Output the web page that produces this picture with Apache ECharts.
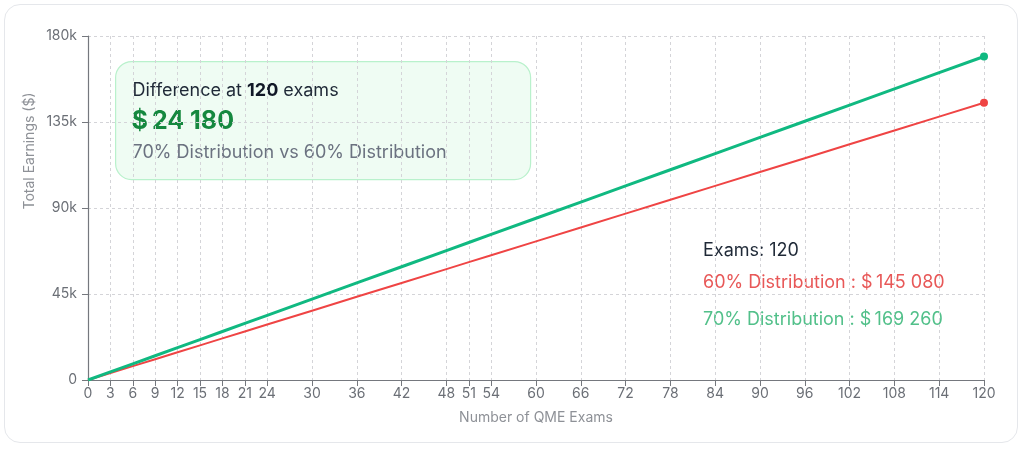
<!DOCTYPE html>
<html>
<head>
<meta charset="utf-8">
<script src="https://cdn.jsdelivr.net/npm/echarts@6/dist/echarts.min.js"></script>
<style>
  html, body { margin: 0; padding: 0; background: #ffffff; }
  #card { position: absolute; left: 4px; top: 4px; width: 1014px; height: 439px; border: 1px solid #e5e7eb; border-radius: 16px; background: #fff; box-sizing: border-box; }
  #chart { position: absolute; left: 0; top: 0; width: 1024px; height: 450px; }
</style>
</head>
<body>
<div id="card"></div>
<div id="chart"></div>
<script>
// ---- data ----
const examTicks = [0, 3, 6, 9, 12, 15, 18, 21, 24, 30, 36, 42, 48, 51, 54, 60, 66, 72, 78, 84, 90, 96, 102, 108, 114, 120];
const exams = [0, 3, 6, 9, 12, 15, 18, 21, 24, 30, 36, 42, 48, 51, 54, 60, 66, 72, 78, 84, 90, 96, 102, 108, 114, 120];
const earnings60 = [0, 3627, 7254, 10881, 14508, 18135, 21762, 25389, 29016, 36270, 43524, 50778, 58032, 61659, 65286, 72540, 79794, 87048, 94302, 101556, 108810, 116064, 123318, 130572, 137826, 145080];
const earnings70 = [0, 4231.5, 8463, 12694.5, 16926, 21157.5, 25389, 29620.5, 33852, 42315, 50778, 59241, 67704, 71935.5, 76167, 84630, 93093, 101556, 110019, 118482, 126945, 135408, 143871, 152334, 160797, 169260];
const yTicks = [0, 45000, 90000, 135000, 180000];
const seriesNames = ['60% Distribution', '70% Distribution'];
const xAxisName = 'Number of QME Exams';
const yAxisName = 'Total Earnings ($)';

const fmtMoney = v => '$' + '\u2009' + Math.round(v).toString().replace(/\B(?=(\d{3})+(?!\d))/g, ' ');
const last = exams.length - 1;
const diff = earnings70[last] - earnings60[last];

const chart = echarts.init(document.getElementById('chart'), null, { renderer: 'canvas' });
const FONT = 'Inter, "Noto Sans", sans-serif';

const option = {
  backgroundColor: 'transparent',
  animation: false,
  textStyle: { fontFamily: FONT },
  grid: { left: 88, right: 40, top: 36, bottom: 70 },
  xAxis: {
    type: 'value',
    min: 0, max: 120,
    name: xAxisName,
    nameLocation: 'middle',
    nameGap: 31,
    nameTextStyle: { color: '#8e9197', fontSize: 14, fontFamily: FONT },
    axisLine: { show: true, lineStyle: { color: '#75787e', width: 1.2 } },
    axisTick: { show: true, length: 6, customValues: examTicks, lineStyle: { color: '#75787e' } },
    axisLabel: { customValues: examTicks, color: '#6b6f76', fontSize: 14, margin: 7, fontFamily: FONT },
    splitLine: { show: true, lineStyle: { color: '#d4d4d8', type: [3, 3] } }
  },
  yAxis: {
    type: 'value',
    min: 0, max: 180000, interval: 45000,
    axisLine: { show: true, lineStyle: { color: '#75787e', width: 1.2 } },
    axisTick: { show: true, length: 6, lineStyle: { color: '#75787e' } },
    axisLabel: {
      color: '#6b6f76', fontSize: 14, margin: 11, fontFamily: FONT,
      customValues: yTicks,
      formatter: v => v === 0 ? '0' : (v / 1000) + 'k'
    },
    splitLine: { show: true, lineStyle: { color: '#d4d4d8', type: [3, 3] } }
  },
  series: [
    {
      name: seriesNames[0],
      type: 'line',
      data: exams.map((x, i) => [x, earnings60[i]]),
      showSymbol: true,
      symbol: 'circle',
      symbolSize: (v, p) => p.dataIndex === last ? 8 : 0,
      itemStyle: { color: '#ef4444' },
      lineStyle: { color: '#ef4444', width: 2 },
      z: 3
    },
    {
      name: seriesNames[1],
      type: 'line',
      data: exams.map((x, i) => [x, earnings70[i]]),
      showSymbol: true,
      symbol: 'circle',
      symbolSize: (v, p) => p.dataIndex === last ? 8 : 0,
      itemStyle: { color: '#10b981' },
      lineStyle: { color: '#10b981', width: 3 },
      z: 4
    }
  ],
  graphic: [
    {
      type: 'text', x: 30, y: 151, rotation: Math.PI / 2, z: 50,
      style: { text: yAxisName, fontSize: 14, fill: '#8e9197', fontFamily: FONT, align: 'center', verticalAlign: 'middle' }
    },
    {
      type: 'group', left: 115, top: 61, z: 100,
      children: [
        { type: 'rect', shape: { x: 0, y: 0, width: 415, height: 118, r: 16 },
          style: { fill: '#effcf3', stroke: '#b9f1cc', lineWidth: 1.2 } },
        { type: 'text', x: 17, y: 29,
          style: {
            text: '{n|Difference at }{b|' + exams[last] + '}{n| exams}',
            verticalAlign: 'middle',
            rich: {
              n: { fontSize: 18, fill: '#1f2937', fontFamily: FONT },
              b: { fontSize: 18, fill: '#111827', fontWeight: 'bold', fontFamily: FONT }
            }
          } },
        { type: 'text', x: 16, y: 60,
          style: { text: fmtMoney(diff), fontSize: 25, fontWeight: 'bold', fill: '#15883f', fontFamily: FONT, verticalAlign: 'middle' } },
        { type: 'text', x: 17, y: 91,
          style: { text: seriesNames[1] + ' vs ' + seriesNames[0], fontSize: 18, fill: '#6b7280', fontFamily: FONT, verticalAlign: 'middle' } }
      ]
    },
    {
      type: 'group', left: 690, top: 223, z: 100,
      children: [
        { type: 'rect', shape: { x: 0, y: 0, width: 263, height: 129 }, style: { fill: '#ffffff' } },
        { type: 'text', x: 13, y: 28,
          style: { text: 'Exams: ' + exams[last], fontSize: 18, fill: '#1f2937', fontFamily: FONT, verticalAlign: 'middle' } },
        { type: 'text', x: 13, y: 60,
          style: { text: seriesNames[0] + ' : ' + fmtMoney(earnings60[last]), fontSize: 18, fill: '#e85858', fontFamily: FONT, verticalAlign: 'middle' } },
        { type: 'text', x: 13, y: 97,
          style: { text: seriesNames[1] + ' : ' + fmtMoney(earnings70[last]), fontSize: 18, fill: '#52c08a', fontFamily: FONT, verticalAlign: 'middle' } }
      ]
    }
  ]
};
chart.setOption(option);
</script>
</body>
</html>
